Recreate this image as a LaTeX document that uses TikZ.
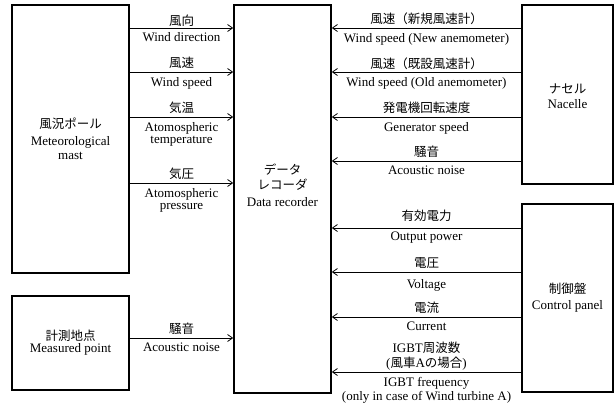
\documentclass[tikz,border=0pt]{standalone}
\usepackage{fontspec}
\setmainfont{Liberation Serif}
\newfontfamily\jp{Noto Sans CJK JP}
\usetikzlibrary{arrows.meta}
\begin{document}
\begin{tikzpicture}[x=1pt,y=-1pt,
  box/.style={draw,line width=1.6pt,inner sep=0pt,rectangle},
  arr/.style={line width=0.8pt,-{Straight Barb[length=5pt,width=7pt,line width=0.8pt]}},
  t/.style={anchor=base,inner sep=0pt,font=\fontsize{13}{15}\selectfont},
  j/.style={anchor=base,inner sep=0pt,font=\fontsize{12.5}{15}\selectfont\jp}]
\useasboundingbox (0,0) rectangle (615,407);
% boxes
\node[box,minimum width=117pt,minimum height=268pt] (mast) at (70.5,139) {};
\node[box,minimum width=117pt,minimum height=94pt] (meas) at (70.5,343) {};
\node[box,minimum width=97pt,minimum height=388pt] (rec) at (282.5,199) {};
\node[box,minimum width=91pt,minimum height=179pt] (nac) at (567.5,94.5) {};
\node[box,minimum width=91pt,minimum height=188pt] (ctl) at (567.5,298) {};
% box texts
\node[j] (mastj) at (70.5,128) {風況ポール};
\node[t] (maste1) at (70.5,145.5) {Meteorological};
\node[t] (maste2) at (70.5,159.5) {mast};
\node[j] (measj) at (70.5,340) {計測地点};
\node[t] (mease) at (70.5,352.5) {Measured point};
\node[j] (recj1) at (282.5,174) {データ};
\node[j] (recj2) at (282.5,189) {レコーダ};
\node[t] (rece) at (282.5,206.5) {Data recorder};
\node[j] (nacj) at (567.5,93) {ナセル};
\node[t] (nace) at (567.5,108.5) {Nacelle};
\node[j] (ctlj) at (567.5,293) {制御盤};
\node[t] (ctle) at (567.5,309.5) {Control panel};
% left arrows
\draw[arr] (mast.east |- 0,28) -- (rec.west |- 0,28);
\draw[arr] (mast.east |- 0,72) -- (rec.west |- 0,72);
\draw[arr] (mast.east |- 0,117) -- (rec.west |- 0,117);
\draw[arr] (mast.east |- 0,183) -- (rec.west |- 0,183);
\draw[arr] (meas.east |- 0,338) -- (rec.west |- 0,338);
% left labels
\node[j] (l1j) at (181.5,25) {風向};
\node[t] (l1e) at (181.5,41.5) {Wind direction};
\node[j] (l2j) at (181.5,67) {風速};
\node[t] (l2e) at (181.5,86.5) {Wind speed};
\node[j] (l3j) at (181.5,112) {気温};
\node[t] (l3e1) at (181.5,131) {Atomospheric};
\node[t] (l3e2) at (181.5,143.8) {temperature};
\node[j] (l4j) at (181.5,178) {気圧};
\node[t] (l4e1) at (181.5,197.5) {Atomospheric};
\node[t] (l4e2) at (181.5,209.5) {pressure};
\node[j] (l5j) at (181.5,333) {騒音};
\node[t] (l5e) at (181.5,351.5) {Acoustic noise};
% right arrows
\draw[arr] (nac.west |- 0,28) -- (rec.east |- 0,28);
\draw[arr] (nac.west |- 0,72) -- (rec.east |- 0,72);
\draw[arr] (nac.west |- 0,117) -- (rec.east |- 0,117);
\draw[arr] (nac.west |- 0,161) -- (rec.east |- 0,161);
\draw[arr] (ctl.west |- 0,228) -- (rec.east |- 0,228);
\draw[arr] (ctl.west |- 0,272) -- (rec.east |- 0,272);
\draw[arr] (ctl.west |- 0,317) -- (rec.east |- 0,317);
\draw[arr] (ctl.west |- 0,372) -- (rec.east |- 0,372);
% right labels
\node[j] (r1j) at (426.5,23) {風速（新規風速計）};
\node[t] (r1e) at (426.5,42.5) {Wind speed (New anemometer)};
\node[j] (r2j) at (426.5,68) {風速（既設風速計）};
\node[t] (r2e) at (426.5,86.5) {Wind speed (Old anemometer)};
\node[j] (r3j) at (426.5,112) {発電機回転速度};
\node[t] (r3e) at (426.5,131.5) {Generator speed};
\node[j] (r4j) at (426.5,156) {騒音};
\node[t] (r4e) at (426.5,174.5) {Acoustic noise};
\node[j] (r5j) at (426.5,220) {有効電力};
\node[t] (r5e) at (426.5,240.5) {Output power};
\node[j] (r6j) at (426.5,267) {電圧};
\node[t] (r6e) at (426.5,288.5) {Voltage};
\node[j] (r7j) at (426.5,312) {電流};
\node[t] (r7e) at (426.5,330.5) {Current};
\node[t] (r8j1) at (426.5,352) {IGBT{\jp\fontsize{12.5}{15}\selectfont 周波数}};
\node[t] (r8j2) at (426.5,367) {({\jp\fontsize{12.5}{15}\selectfont 風車}A{\jp\fontsize{12.5}{15}\selectfont の場合})};
\node[t] (r8e1) at (426.5,386.5) {IGBT frequency};
\node[t] (r8e2) at (426.5,400.5) {(only in case of Wind turbine A)};
\end{tikzpicture}
\end{document}
